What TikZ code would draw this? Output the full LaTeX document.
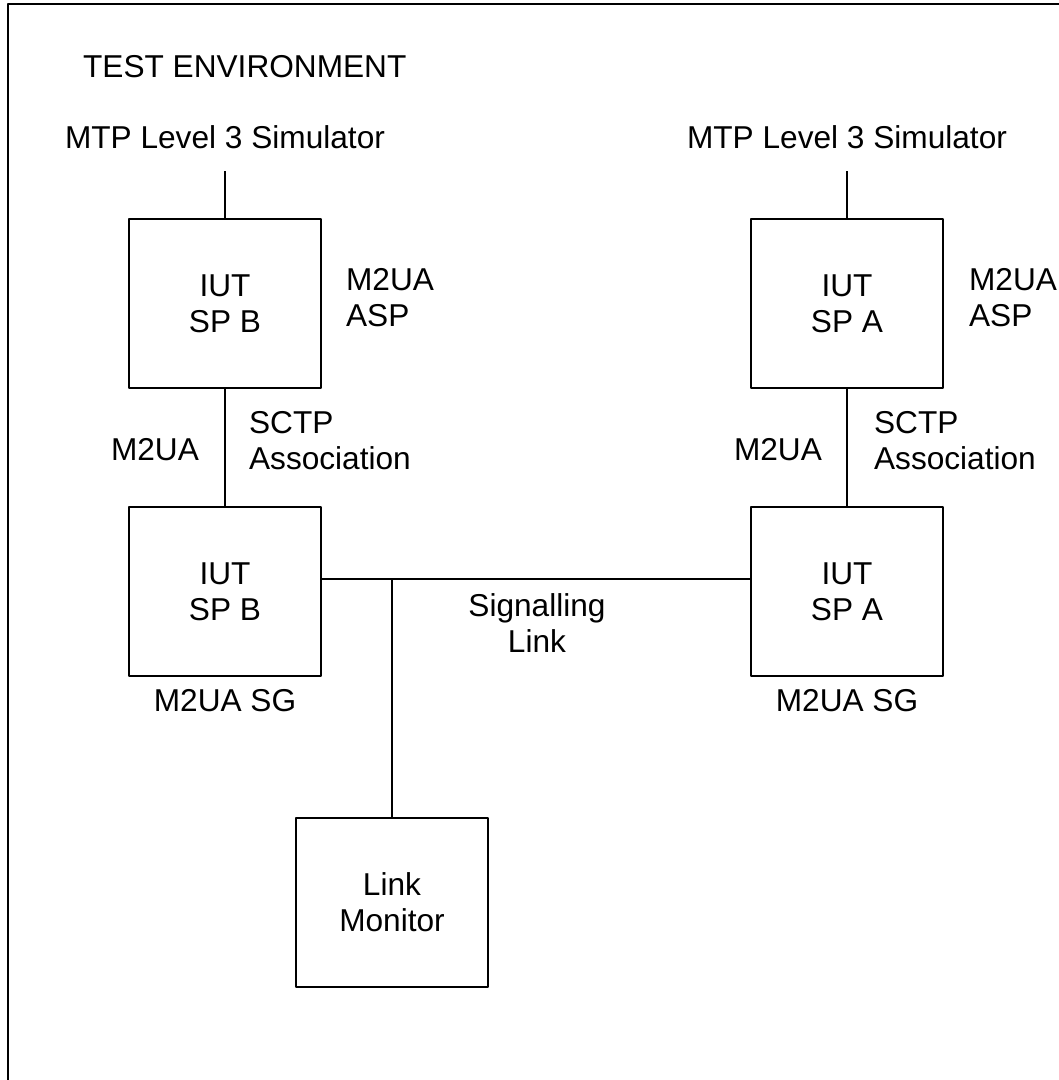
\documentclass[tikz,border=0pt]{standalone}
\usepackage{fontspec}
\setmainfont{Liberation Sans}
\usetikzlibrary{positioning}
\begin{document}
\begin{tikzpicture}[x=0.02cm, y=-0.02cm, line width=1.25pt, line join=round, font=\fontsize{18}{20.5}\selectfont, inner sep=0pt]
	\tikzset{unit/.style={draw, minimum width=3.84cm, minimum height=3.38cm, align=center},
		lbl/.style={align=left}}
	\def \xb{225}\def \xa{847}\def \ytop{303.5}\def \ybot{591.5}
	\useasboundingbox (0,0) rectangle (1059,1080);
	\clip (0,0) rectangle (1059,1080);
	% frame of the test environment
	\draw (8,1100) |- (1100,4);
	\node[anchor=base west] (env) at (82,77) {TEST ENVIRONMENT};
	% simulators
	\node[anchor=base] (simB) at (\xb,148) {MTP Level 3 Simulator};
	\node[anchor=base] (simA) at (\xa,148) {MTP Level 3 Simulator};
	\coordinate (topB) at (\xb,171);
	\coordinate (topA) at (\xa,171);
	% boxes
	\node[unit] (aspB) at (\xb,\ytop) {IUT\\SP B};
	\node[unit] (aspA) at (\xa,\ytop) {IUT\\SP A};
	\node[unit] (sgB) at (\xb,\ybot) {IUT\\SP B};
	\node[unit] (sgA) at (\xa,\ybot) {IUT\\SP A};
	\node[unit] (mon) at (392,902.5) {Link\\Monitor};
	% labels
	\node[lbl, anchor=west] (aspBl) at (345,298) {M2UA\\ASP};
	\node[lbl, anchor=west] (aspAl) at (968,298) {M2UA\\ASP};
	\node[anchor=base east] (m2uB) at (200,460) {M2UA};
	\node[anchor=base east] (m2uA) at (823,460) {M2UA};
	\node[lbl, anchor=west] (sctpB) at (248,441) {SCTP\\Association};
	\node[lbl, anchor=west] (sctpA) at (873,441) {SCTP\\Association};
	\node[below=0.23cm of sgB] (sgBl) {M2UA SG};
	\node[below=0.23cm of sgA] (sgAl) {M2UA SG};
	\node[align=center] (sig) at (537,623) {Signalling\\Link};
	% connectors
	\coordinate (tap) at (392,579);
	\draw (topB) -- (aspB.north);
	\draw (topA) -- (aspA.north);
	\draw (aspB.south) -- (sgB.north);
	\draw (aspA.south) -- (sgA.north);
	\draw (sgB.east |- tap) -- (sgA.west |- tap);
	\draw (tap) -- (mon.north);
\end{tikzpicture}
\end{document}
